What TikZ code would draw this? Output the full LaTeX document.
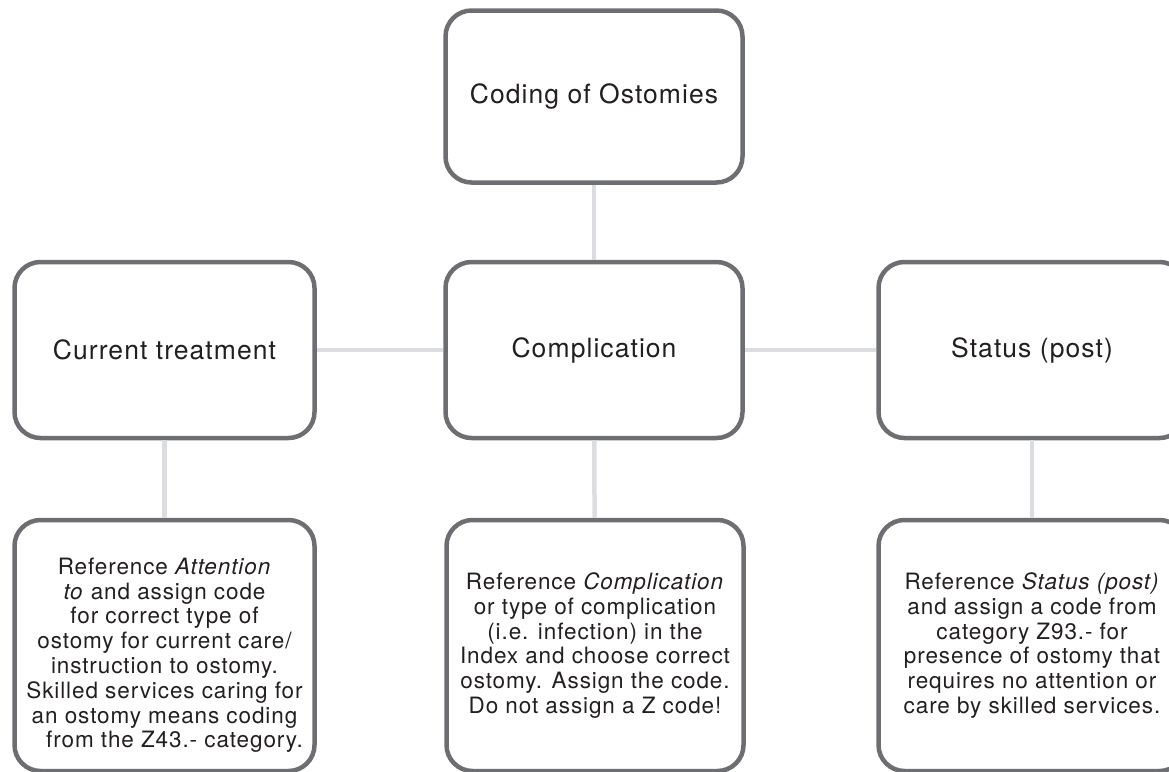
\documentclass[tikz,border=0pt]{standalone}
\usepackage{fontspec}
\setmainfont[LetterSpace=4]{TeX Gyre Heros}

\definecolor{boxgray}{HTML}{6D6E71}
\definecolor{linkgray}{HTML}{DCDDE0}
\definecolor{inkgray}{HTML}{231F20}

\tikzset{
    box/.style={draw=boxgray, line width=4.5pt, rounded corners=26pt, fill=white,
        inner sep=0pt, align=center, text=inkgray, font=\fontsize{26.5}{31}\selectfont},
    note/.style={box, minimum height=251pt, font=\fontsize{22.5}{24.8}\selectfont},
    link/.style={draw=linkgray, line width=4.5pt},
}

\begin{document}
\begin{tikzpicture}[x=1pt, y=-1pt]
    \clip (0,0) rectangle (1169,771);

    % top and middle row
    \node[box, minimum width=297pt, minimum height=172pt] (coding) at (594,96.5) {Coding of Ostomies};
    \node[box, minimum width=300pt, minimum height=176pt] (current) at (164.5,350) {Current treatment};
    \node[box, minimum width=297pt, minimum height=176pt] (compl) at (594,350) {Complication};
    \node[box, minimum width=307pt, minimum height=176pt] (status) at (1032,350) {Status (post)};

    % bottom row
    \node[note, minimum width=300pt] (currentnote) at (164.5,645.5) {\rule{0pt}{36pt}Reference \textit{Attention}\\
        \textit{to} and assign code\\ for correct type of\\ ostomy for current care/\\
        instruction to ostomy.\\ Skilled services caring for\\ an ostomy means coding\\
        \hspace*{20pt}from the Z43.- category.};
    \node[note, minimum width=297pt] (complnote) at (595,645.5) {Reference \textit{Complication}\\
        or type of complication\\ (i.e. infection) in the\\ Index and choose correct\\
        ostomy. Assign the code.\\ Do not assign a Z code!};
    \node[note, minimum width=307pt] (statusnote) at (1032,645.5) {Reference \textit{Status (post)}\\
        and assign a code from\\ category Z93.- for\\ presence of ostomy that\\
        requires no attention or\\ care by skilled services.};

    \draw[link] (coding) -- (compl);
    \draw[link] (current) -- (compl);
    \draw[link] (compl) -- (status);
    \draw[link] (current) -- (currentnote);
    \draw[link] (compl) -- (complnote);
    \draw[link] (status) -- (statusnote);
\end{tikzpicture}
\end{document}
